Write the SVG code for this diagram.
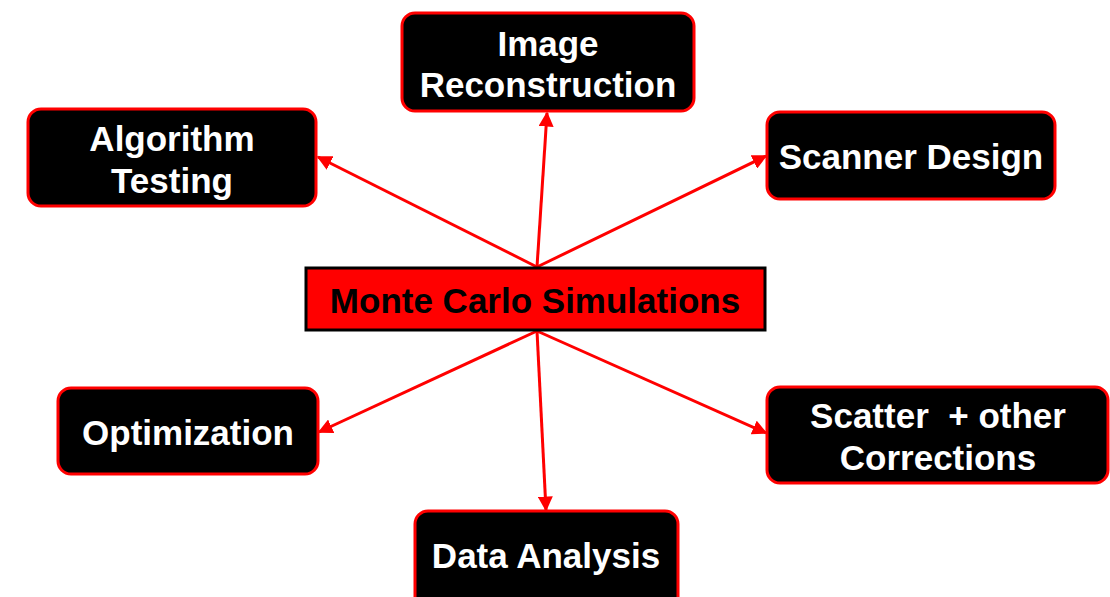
<svg xmlns="http://www.w3.org/2000/svg" width="1110" height="597" viewBox="0 0 1110 597">
<style>
.node rect{fill:#000;stroke:#ff0000;stroke-width:3}
.node text{fill:#fff;font-family:"Liberation Sans",Arial,sans-serif;font-weight:bold;font-size:35px;text-anchor:middle;dominant-baseline:central}
#center rect{fill:#ff0000;stroke:#000;stroke-width:3}
#center text{fill:#000}
.conn line{stroke:#ff0000;stroke-width:3;marker-end:url(#ah)}
</style>
<defs>
<marker id="ah" viewBox="0 0 10 10" refX="9" refY="5" markerWidth="5" markerHeight="5" orient="auto" markerUnits="strokeWidth">
<path d="M0,0 L10,5 L0,10 z" fill="#ff0000"/>
</marker>
</defs>
<rect width="1110" height="597" fill="#fff"/>
<g class="conn">
<line x1="537" y1="267" x2="318" y2="157"/>
<line x1="537" y1="267" x2="547" y2="113"/>
<line x1="537" y1="267" x2="766" y2="156"/>
<line x1="537" y1="331" x2="319" y2="432"/>
<line x1="537" y1="331" x2="766" y2="433"/>
<line x1="537" y1="331" x2="546" y2="510"/>
</g>
<g id="center" class="node">
<rect x="306" y="268" width="459" height="62"/>
<text x="535" y="300">Monte Carlo Simulations</text>
</g>
<g id="algorithm" class="node">
<rect x="28" y="109" width="288" height="97" rx="13"/>
<text x="172" y="138">Algorithm</text>
<text x="172" y="180">Testing</text>
</g>
<g id="image" class="node">
<rect x="402" y="13" width="292" height="98" rx="13"/>
<text x="548" y="43">Image</text>
<text x="548" y="84">Reconstruction</text>
</g>
<g id="scanner" class="node">
<rect x="767" y="112" width="288" height="87" rx="13"/>
<text x="911" y="156">Scanner Design</text>
</g>
<g id="optimization" class="node">
<rect x="58" y="388" width="260" height="86" rx="13"/>
<text x="188" y="432">Optimization</text>
</g>
<g id="scatter" class="node">
<rect x="767" y="387" width="341" height="96" rx="13"/>
<text x="938" y="415" xml:space="preserve">Scatter  + other</text>
<text x="938" y="457">Corrections</text>
</g>
<g id="data" class="node">
<rect x="415" y="511" width="263" height="100" rx="13"/>
<text x="546" y="555">Data Analysis</text>
</g>
</svg>
